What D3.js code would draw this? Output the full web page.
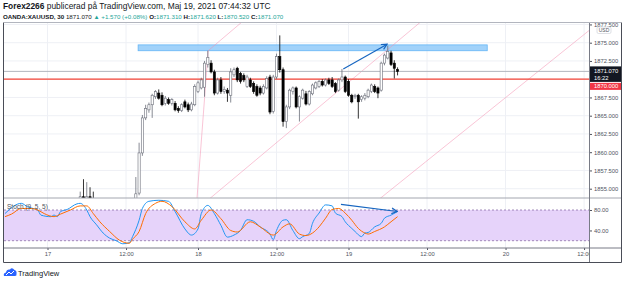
<!DOCTYPE html>
<html>
<head>
<meta charset="utf-8">
<script src="https://cdnjs.cloudflare.com/ajax/libs/d3/7.8.5/d3.min.js"></script>
<style>
body { margin: 0; background: #fff; }
svg { display: block; font-family: "Liberation Sans", Arial, sans-serif; }
</style>
</head>
<body>
<script>
// ---- data ----
// bar index: 0 = 17 May 00:00, 30 min bars, 46 bars per trading day
var barIdx = [10,11,12,13,14,27,28,29,30,31,32,33,34,35,36,37,38,39,40,41,42,43,44,45,46,47,48,49,50,51,52,53,54,55,56,57,58,59,60,61,62,63,64,65,66,67,68,69,70,71,72,73,74,75,76,77,78,79,80,81,82,83,84,85,86,87,88,89,90,91,92,93,94,95,96,97,98,99,100,101,102,103,104,105,106,107];
var opens  = [1853.2,1853.9,1853.7,1853.9,1853.6,1852.6,1854.4,1859.9,1864.7,1865.8,1866.5,1867.6,1868.1,1867.8,1866.7,1867.2,1866.7,1866.7,1866.0,1865.7,1866.9,1866.5,1865.8,1866.5,1868.3,1868.8,1868.9,1872.0,1872.2,1871.0,1868.1,1869.9,1868.3,1868.5,1867.8,1870.6,1871.5,1870.8,1870.5,1869.0,1869.9,1869.4,1869.0,1868.8,1868.1,1868.8,1870.3,1865.6,1870.3,1873.1,1871.3,1864.2,1866.2,1868.3,1868.8,1866.2,1867.4,1868.0,1866.6,1868.0,1868.8,1869.0,1869.7,1869.2,1869.9,1869.9,1869.4,1868.5,1869.9,1870.3,1869.7,1867.8,1867.6,1867.8,1867.2,1867.4,1867.6,1868.3,1869.0,1868.8,1868.5,1872.2,1872.9,1873.6,1872.2,1871.31];
var highs  = [1854.6,1856.3,1855.9,1855.2,1854.6,1856.6,1861.3,1865.1,1866.5,1866.8,1868.0,1868.5,1868.6,1868.2,1867.7,1867.5,1867.4,1867.0,1866.3,1866.7,1867.2,1866.8,1866.9,1869.3,1869.8,1870.2,1872.5,1873.9,1872.6,1871.3,1870.2,1870.3,1869.0,1868.8,1871.5,1871.6,1871.7,1871.0,1870.8,1870.6,1870.2,1869.7,1869.3,1869.1,1869.3,1870.4,1870.6,1870.6,1873.5,1876.0,1871.6,1866.5,1868.7,1869.0,1869.0,1867.8,1868.7,1868.4,1868.5,1869.4,1869.7,1869.9,1870.0,1870.1,1870.2,1870.3,1869.6,1870.1,1871.4,1870.5,1870.0,1868.0,1868.0,1868.0,1867.8,1868.1,1868.7,1869.4,1869.3,1869.0,1872.4,1873.5,1874.6,1873.9,1872.6,1871.62];
var lows   = [1852.5,1853.1,1853.2,1852.9,1852.6,1852.0,1854.1,1859.5,1864.4,1865.4,1864.7,1867.3,1867.2,1866.3,1866.4,1866.5,1866.4,1865.6,1865.4,1865.5,1866.0,1865.5,1865.6,1866.3,1868.1,1868.6,1867.6,1871.6,1870.8,1867.8,1867.9,1868.0,1868.0,1866.9,1866.8,1870.3,1869.6,1869.4,1869.6,1868.8,1868.8,1868.0,1867.6,1867.8,1867.9,1868.6,1865.2,1865.3,1870.0,1870.9,1863.5,1863.3,1865.9,1867.9,1866.0,1864.2,1867.2,1866.4,1866.4,1867.8,1868.6,1868.8,1869.0,1869.0,1869.2,1868.8,1868.1,1868.3,1869.6,1868.1,1867.6,1866.7,1867.3,1864.6,1866.9,1867.1,1867.4,1868.1,1868.1,1867.4,1868.3,1871.9,1872.7,1871.8,1870.1,1870.52];
var closes = [1853.9,1853.7,1853.9,1853.6,1853.2,1854.3,1859.9,1864.7,1866.0,1866.5,1867.8,1868.3,1867.4,1866.5,1867.4,1866.7,1867.2,1865.8,1865.7,1866.5,1866.2,1865.8,1866.6,1869.0,1869.5,1869.9,1872.2,1873.0,1871.0,1868.1,1869.9,1868.3,1868.6,1868.1,1871.0,1871.3,1869.9,1869.7,1869.9,1870.3,1869.0,1868.3,1867.8,1868.1,1869.0,1870.1,1865.5,1870.3,1873.1,1871.3,1864.2,1866.2,1868.5,1868.8,1866.2,1867.6,1868.5,1866.6,1868.3,1869.2,1869.5,1869.7,1869.2,1869.9,1869.4,1869.0,1868.3,1869.9,1870.3,1868.3,1867.8,1866.9,1867.8,1866.9,1867.6,1867.8,1868.5,1869.2,1868.3,1868.1,1872.2,1873.3,1873.8,1872.0,1871.5,1871.07];

// stochastic (9, 5, 5)
var kIdx = [-13,-8,-6,-5,-3,-2,1,2,3,4,6,9,10,12,13,15,17,19,21,23,25,26,28,29,31,34,37,39,42,44,46,47,49,51,53,55,57,59,61,63,65,68,69,70,72,73,75,77,78,80,81,83,85,87,88,90,91,93,94,96,97,98,100,102,103,105,107];
var kVal = [73,93,86,84,80,70,67,70,67,77,81,92,93,80,67,51,35,25,20,14,16,28,60,83,97,99,97,77,43,31,43,73,89,73,50,27,31,40,61,58,47,33,22,40,60,61,40,24,28,34,54,74,90,88,74,67,57,44,38,28,35,36,47,54,64,70,77];
var dIdx = [-13,-11,-8,-5,-3,-1,2,4,7,10,12,14,16,19,22,25,26,28,30,33,35,38,42,45,47,50,53,56,58,62,65,69,72,74,77,79,81,83,85,87,89,91,93,95,97,98,100,103,105,107];
var dVal = [67,72,83,83,80,73,67,72,80,88,88,73,57,38,21,15,23,38,73,93,97,87,57,43,60,80,63,40,37,57,47,31,47,53,33,30,35,47,64,81,83,74,60,44,35,33,38,47,57,67];

// axis ticks
var priceTicks = [1855, 1857.5, 1860, 1862.5, 1865, 1867.5, 1870, 1872.5, 1875, 1877.5];
var stochTicks = [40, 80];
var timeIdx = [0, 24, 46, 70, 92, 116, 140, 164];
var timeLabels = ['17', '12:00', '18', '12:00', '19', '12:00', '20', '12:00'];

// drawings on the chart (bar index / price)
var levelPrice = 1870;
var zoneBox = [27.7, 134.4, 1873.9, 1874.7];
var pinkLines = [
    [44.5, 1846.6, 49.1, 1873.9],
    [49.1, 1873.9, 62.5, 1879],
    [49.2, 1853.5, 115, 1878.2],
    [101.2, 1853.5, 167, 1877.2]
];
var priceArrow = [90.4, 1871.4, 103.8, 1874.8];
var stochArrow = [89.7, 91, 106.9, 77];

// ---- layout ----
var W = 625, H = 283;
var padL = 4, plotRight = 589, outerRight = 621;
var paneTop = 23, mainBottom = 198, stochBottom = 248, frameBottom = 262;

var svg = d3.select('body').append('svg')
    .attr('width', W)
    .attr('height', H);

var x = d3.scaleLinear().domain([0, 92]).range([47.5, 348.5]);
var y = d3.scaleLinear().domain([1855, 1875]).range([188.7, 42.7]);
var ys = d3.scaleLinear().domain([20, 80]).range([240.7, 210]);

var defs = svg.append('defs');
defs.append('clipPath').attr('id', 'clipMain')
    .append('rect').attr('x', padL).attr('y', paneTop).attr('width', plotRight - padL).attr('height', mainBottom - paneTop);
defs.append('clipPath').attr('id', 'clipStoch')
    .append('rect').attr('x', padL).attr('y', mainBottom).attr('width', plotRight - padL).attr('height', stochBottom - mainBottom);
defs.append('clipPath').attr('id', 'clipAxis')
    .append('rect').attr('x', plotRight).attr('y', paneTop).attr('width', outerRight - plotRight).attr('height', mainBottom - paneTop);
defs.append('clipPath').attr('id', 'clipTime')
    .append('rect').attr('x', padL).attr('y', stochBottom).attr('width', plotRight - padL).attr('height', frameBottom - stochBottom);
defs.append('marker').attr('id', 'arrowHead')
    .attr('viewBox', '0 0 10 10').attr('refX', 9).attr('refY', 5)
    .attr('markerWidth', 7).attr('markerHeight', 7)
    .attr('markerUnits', 'userSpaceOnUse')
    .attr('orient', 'auto')
    .append('path').attr('d', 'M1,1 L9,5 L1,9')
    .attr('fill', 'none').attr('stroke', '#1565c0').attr('stroke-width', 1.6);

// header
var head1 = svg.append('text').attr('x', 3).attr('y', 8.5).attr('font-size', 8.4).attr('fill', '#131722');
head1.append('tspan').attr('font-weight', 'bold').text('Forex2266');
head1.append('tspan').text(' publicerad på TradingView.com, Maj 19, 2021 07:44:32 UTC');

var head2 = svg.append('text').attr('x', 3).attr('y', 18.5).attr('font-size', 6.2).attr('fill', '#131722');
var parts = [
    ['OANDA:XAUUSD, 30', '#131722', 'bold'],
    [' 1871.070 ', '#131722', 'normal'],
    ['▲ +1.570 (+0.08%)', '#26a69a', 'normal'],
    [' O:', '#131722', 'bold'], ['1871.310', '#26a69a', 'normal'],
    [' H:', '#131722', 'bold'], ['1871.620', '#26a69a', 'normal'],
    [' L:', '#131722', 'bold'], ['1870.520', '#26a69a', 'normal'],
    [' C:', '#131722', 'bold'], ['1871.070', '#26a69a', 'normal']
];
parts.forEach(function (p) {
    head2.append('tspan').attr('fill', p[1]).attr('font-weight', p[2]).attr('xml:space', 'preserve').text(p[0]);
});

// grid
var grid = svg.append('g');
grid.selectAll('.hg').data(priceTicks).enter().append('line')
    .attr('x1', padL).attr('x2', plotRight)
    .attr('y1', function (d) { return y(d); }).attr('y2', function (d) { return y(d); })
    .attr('stroke', '#eef0f5').attr('stroke-width', 1)
    .attr('clip-path', 'url(#clipMain)');
grid.selectAll('.vg').data(timeIdx).enter().append('line')
    .attr('x1', function (d) { return x(d); }).attr('x2', function (d) { return x(d); })
    .attr('y1', paneTop).attr('y2', stochBottom)
    .attr('stroke', '#eef0f5').attr('stroke-width', 1);

// main pane
var main = svg.append('g').attr('clip-path', 'url(#clipMain)');

main.append('rect')
    .attr('x', x(zoneBox[0])).attr('width', x(zoneBox[1]) - x(zoneBox[0]))
    .attr('y', y(zoneBox[3])).attr('height', y(zoneBox[2]) - y(zoneBox[3]))
    .attr('fill', '#90caf9').attr('fill-opacity', 0.85)
    .attr('stroke', '#64b5f6').attr('stroke-width', 0.8);

main.selectAll('.pink').data(pinkLines).enter().append('line')
    .attr('x1', function (d) { return x(d[0]); }).attr('y1', function (d) { return y(d[1]); })
    .attr('x2', function (d) { return x(d[2]); }).attr('y2', function (d) { return y(d[3]); })
    .attr('stroke', '#f48fb1').attr('stroke-width', 0.7).attr('stroke-opacity', 0.75);

main.append('line')
    .attr('x1', padL).attr('x2', plotRight)
    .attr('y1', y(closes[closes.length - 1])).attr('y2', y(closes[closes.length - 1]))
    .attr('stroke', '#b2b5be').attr('stroke-width', 1);

main.append('line')
    .attr('x1', padL).attr('x2', plotRight)
    .attr('y1', y(levelPrice)).attr('y2', y(levelPrice))
    .attr('stroke', '#f44336').attr('stroke-width', 1.3);

var candles = barIdx.map(function (d, i) {
    return {i: d, o: opens[i], h: highs[i], l: lows[i], c: closes[i]};
});

main.selectAll('.wick').data(candles).enter().append('line')
    .attr('x1', function (d) { return x(d.i); }).attr('x2', function (d) { return x(d.i); })
    .attr('y1', function (d) { return y(d.h); }).attr('y2', function (d) { return y(d.l); })
    .attr('stroke', function (d) { return d.c >= d.o ? '#6a6d78' : '#000'; })
    .attr('stroke-width', 0.8);

main.selectAll('.body').data(candles).enter().append('rect')
    .attr('x', function (d) { return x(d.i) - 1.1; })
    .attr('width', 2.2)
    .attr('y', function (d) { return y(Math.max(d.o, d.c)); })
    .attr('height', function (d) { return Math.max(0.8, Math.abs(y(d.o) - y(d.c))); })
    .attr('fill', function (d) { return d.c >= d.o ? '#fff' : '#000'; })
    .attr('stroke', function (d) { return d.c >= d.o ? '#6a6d78' : '#000'; })
    .attr('stroke-width', 0.6);

main.append('line')
    .attr('x1', x(priceArrow[0])).attr('y1', y(priceArrow[1]))
    .attr('x2', x(priceArrow[2])).attr('y2', y(priceArrow[3]))
    .attr('stroke', '#1565c0').attr('stroke-width', 1.1)
    .attr('marker-end', 'url(#arrowHead)');

// stoch pane
var stoch = svg.append('g').attr('clip-path', 'url(#clipStoch)');

stoch.append('rect')
    .attr('x', padL).attr('width', plotRight - padL)
    .attr('y', ys(80)).attr('height', ys(20) - ys(80))
    .attr('fill', '#e6d3fa');

stoch.selectAll('.band').data([80, 20]).enter().append('line')
    .attr('x1', padL).attr('x2', plotRight)
    .attr('y1', function (d) { return ys(d); }).attr('y2', function (d) { return ys(d); })
    .attr('stroke', '#8c6fa8').attr('stroke-width', 0.8)
    .attr('stroke-dasharray', '2,2');

var stLine = d3.line()
    .x(function (d) { return x(d[0]); })
    .y(function (d) { return ys(d[1]); })
    .curve(d3.curveMonotoneX);

stoch.append('path')
    .attr('d', stLine(kIdx.map(function (d, i) { return [d, kVal[i]]; })))
    .attr('fill', 'none').attr('stroke', '#2196f3').attr('stroke-width', 1);

stoch.append('path')
    .attr('d', stLine(dIdx.map(function (d, i) { return [d, dVal[i]]; })))
    .attr('fill', 'none').attr('stroke', '#ff6d00').attr('stroke-width', 1);

stoch.append('line')
    .attr('x1', x(stochArrow[0])).attr('y1', ys(stochArrow[1]))
    .attr('x2', x(stochArrow[2])).attr('y2', ys(stochArrow[3]))
    .attr('stroke', '#1565c0').attr('stroke-width', 1.1)
    .attr('marker-end', 'url(#arrowHead)');

svg.append('text')
    .attr('x', 7).attr('y', 209)
    .attr('font-size', 6.5).attr('fill', '#50535e')
    .text('Stoch (9, 5, 5)');

// price axis (ticks hidden under the last price labels are dropped)
var lastClose = closes[closes.length - 1];
var lastY = y(lastClose);
var shownTicks = priceTicks.filter(function (d) { return y(d) < lastY - 8 || y(d) > lastY + 22; });

var pAxis = svg.append('g').attr('clip-path', 'url(#clipAxis)')
    .append('g')
    .attr('transform', 'translate(' + plotRight + ',0)')
    .call(d3.axisRight(y).tickValues(shownTicks).tickSize(3).tickPadding(2).tickFormat(d3.format('.3f')));
pAxis.select('.domain').remove();
pAxis.selectAll('text').attr('font-size', 5.8).attr('fill', '#50535e').attr('font-family', '"Liberation Sans", Arial, sans-serif');
pAxis.selectAll('line').attr('stroke', '#50535e');

var sAxis = svg.append('g')
    .attr('transform', 'translate(' + plotRight + ',0)')
    .call(d3.axisRight(ys).tickValues(stochTicks).tickSize(3).tickPadding(2).tickFormat(d3.format('.2f')));
sAxis.select('.domain').remove();
sAxis.selectAll('text').attr('font-size', 5.8).attr('fill', '#50535e').attr('font-family', '"Liberation Sans", Arial, sans-serif');
sAxis.selectAll('line').attr('stroke', '#50535e');

// USD badge
svg.append('rect').attr('x', 597).attr('y', 27).attr('width', 14).attr('height', 6.5).attr('rx', 1.5)
    .attr('fill', '#fff').attr('stroke', '#c8cbd3').attr('stroke-width', 0.6);
svg.append('text').attr('x', 604).attr('y', 32.2).attr('text-anchor', 'middle')
    .attr('font-size', 5).attr('fill', '#50535e').text('USD');

// last price + level labels
svg.append('rect').attr('x', plotRight).attr('y', lastY - 5).attr('width', outerRight - plotRight).attr('height', 15.5)
    .attr('fill', '#131722');
svg.append('text').attr('x', 594).attr('y', lastY + 2).attr('font-size', 5.8).attr('fill', '#fff')
    .text(d3.format('.3f')(lastClose));
svg.append('text').attr('x', 594).attr('y', lastY + 9).attr('font-size', 5.8).attr('fill', '#fff')
    .text('16:22');
svg.append('rect').attr('x', plotRight).attr('y', lastY + 11.5).attr('width', outerRight - plotRight).attr('height', 7)
    .attr('fill', '#f23645');
svg.append('text').attr('x', 594).attr('y', lastY + 17).attr('font-size', 5.8).attr('fill', '#fff')
    .text(d3.format('.3f')(levelPrice));

// time axis
var tAxis = svg.append('g').attr('clip-path', 'url(#clipTime)')
    .append('g')
    .attr('transform', 'translate(0,' + stochBottom + ')')
    .call(d3.axisBottom(x).tickValues(timeIdx).tickSize(2).tickPadding(2)
        .tickFormat(function (d, i) { return timeLabels[i]; }));
tAxis.select('.domain').remove();
tAxis.selectAll('text').attr('font-size', 5.8).attr('fill', '#50535e').attr('font-family', '"Liberation Sans", Arial, sans-serif');
tAxis.selectAll('line').attr('stroke', '#50535e');

// frame and separators
svg.append('line').attr('x1', padL).attr('x2', outerRight).attr('y1', mainBottom).attr('y2', mainBottom)
    .attr('stroke', '#a3a6af').attr('stroke-width', 1);
svg.append('line').attr('x1', padL).attr('x2', outerRight).attr('y1', stochBottom).attr('y2', stochBottom)
    .attr('stroke', '#787b86').attr('stroke-width', 1);
svg.append('line').attr('x1', plotRight + 0.5).attr('x2', plotRight + 0.5).attr('y1', paneTop).attr('y2', frameBottom)
    .attr('stroke', '#787b86').attr('stroke-width', 1);
svg.append('line').attr('x1', padL).attr('x2', outerRight).attr('y1', paneTop - 0.5).attr('y2', paneTop - 0.5)
    .attr('stroke', '#b2b5be').attr('stroke-width', 1);
svg.append('path')
    .attr('d', 'M3.5,' + (paneTop - 0.5) + ' V' + (frameBottom + 0.5) + ' H' + (outerRight + 0.5) + ' V' + (paneTop - 0.5))
    .attr('fill', 'none').attr('stroke', '#4a4d57').attr('stroke-width', 1);

// TradingView logo
var logo = svg.append('g').attr('transform', 'translate(3,267)');
logo.append('path')
    .attr('d', 'M1,9 Q0,6 3,5.5 Q3.5,2 7,2.5 Q9,0 11.5,3 Q14,3.5 13.5,7 Q14,9 12,9 Z')
    .attr('fill', '#2962ff');
logo.append('path')
    .attr('d', 'M3,8 L6,5 L8,7 L11,4')
    .attr('fill', 'none').attr('stroke', '#fff').attr('stroke-width', 1);
svg.append('text').attr('x', 18).attr('y', 275.5).attr('font-size', 7.5).attr('fill', '#131722')
    .text('TradingView');
</script>
</body>
</html>
